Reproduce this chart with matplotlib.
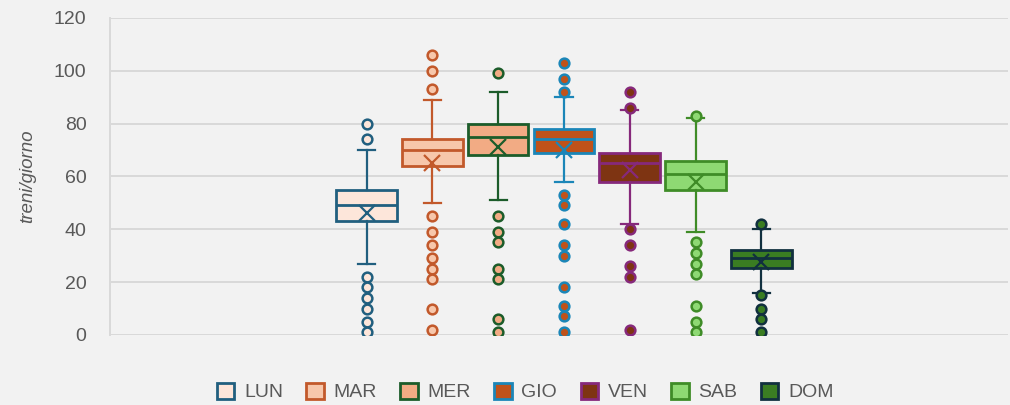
import numpy as np
import matplotlib.pyplot as plt

# giorni della settimana
days = ['LUN', 'MAR', 'MER', 'GIO', 'VEN', 'SAB', 'DOM']

q1 = [43, 64, 68, 69, 58, 55, 25.5]
med = [49, 70, 75, 74, 65, 61, 29]
q3 = [55, 74, 80, 78, 69, 66, 32]
mean = [46, 65, 71, 70, 62.5, 58, 27.5]
wlo = [27, 50, 51, 58, 42, 39, 16]
whi = [70, 89, 92, 90, 85, 82, 40]
fliers = [
    [80, 74, 22, 18, 14, 10, 5, 1],
    [106, 100, 93, 45, 39, 34, 29, 25, 21, 10, 2],
    [99, 45, 39, 35, 25, 21, 6, 1],
    [103, 97, 92, 53, 49, 42, 34, 30, 18, 11, 7, 1],
    [92, 86, 40, 34, 26, 22, 2],
    [83, 35, 31, 27, 23, 11, 5, 1],
    [42, 15, 10, 6, 1],
]

face = ['#FDE6DA', '#F7C7AB', '#F2AB84', '#C0521A', '#7E3412', '#8ED973', '#3A7D22']
edge = ['#215F7F', '#C2592B', '#1C5C2A', '#1B86B8', '#86297B', '#3F8C27', '#11303F']

bg = '#F2F2F2'
txt = '#595959'

fig = plt.figure(figsize=(10.1, 4.05), dpi=100)
fig.patch.set_facecolor(bg)
ax = fig.add_axes([0.109, 0.173, 0.889, 0.783])
ax.set_facecolor(bg)

stats = []
for i in range(len(days)):
    stats.append(dict(q1=q1[i], med=med[i], q3=q3[i], mean=mean[i],
                      whislo=wlo[i], whishi=whi[i], fliers=fliers[i]))

for i in range(len(days)):
    ax.bxp([stats[i]], positions=[i], widths=0.92, capwidths=0.26,
           showmeans=True, patch_artist=True,
           boxprops=dict(facecolor=face[i], edgecolor=edge[i], linewidth=2),
           medianprops=dict(color=edge[i], linewidth=2),
           whiskerprops=dict(color=edge[i], linewidth=1.6),
           capprops=dict(color=edge[i], linewidth=1.6),
           meanprops=dict(marker='x', markeredgecolor=edge[i], markersize=12,
                          markeredgewidth=1.6),
           flierprops=dict(marker='o', markerfacecolor=face[i], markeredgecolor=edge[i],
                           markersize=7, markeredgewidth=1.8),
           zorder=3)

ax.set_xlim(-3.9, 9.75)
ax.set_ylim(0, 120)
ax.set_yticks(np.arange(0, 121, 20))
ax.set_xticks([])
ax.grid(axis='y', color='#D9D9D9', linewidth=1.4, zorder=0)
ax.set_axisbelow(True)
for s in ['top', 'right', 'bottom']:
    ax.spines[s].set_visible(False)
ax.spines['left'].set_color('#D9D9D9')
ax.spines['left'].set_linewidth(1.4)
ax.tick_params(axis='y', length=0, pad=17, labelsize=14, labelcolor=txt)
for lab in ax.get_yticklabels():
    lab.set_fontfamily('Liberation Sans')

fig.text(0.027, 0.565, 'treni/giorno', rotation=90, ha='center', va='center',
         fontsize=13.5, style='italic', color=txt, family='Liberation Sans')

handles = [plt.Rectangle((0, 0), 1, 1, facecolor=face[i], edgecolor=edge[i], linewidth=2)
           for i in range(len(days))]
fig.legend(handles, days, loc='center', bbox_to_anchor=(0.52, 0.032), ncol=7,
           frameon=False, prop=dict(family='Liberation Sans', size=14),
           labelcolor=txt, handlelength=0.9, handleheight=0.9, handletextpad=0.5,
           columnspacing=1.2)

plt.savefig('out.png', dpi=100, facecolor=bg)
